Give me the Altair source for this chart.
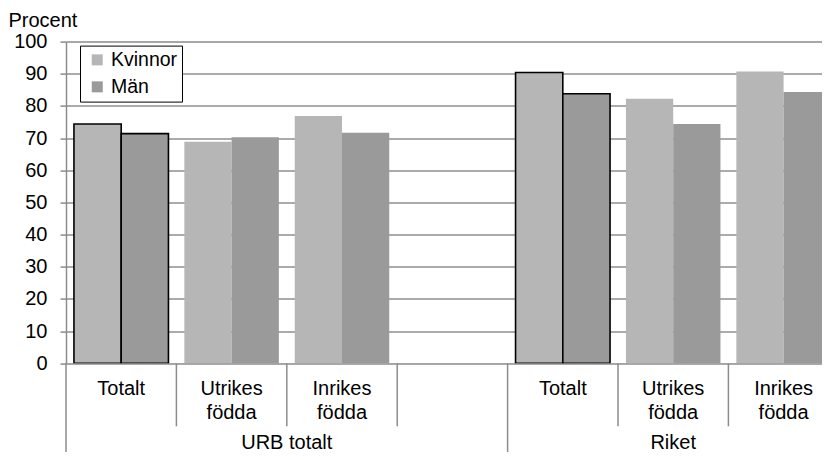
import altair as alt
import pandas as pd

grupper = ["URB totalt", "Riket"]
kategorier = ["Totalt", "Utrikes födda", "Inrikes födda"]
kon = ["Kvinnor", "Män"]
kvinnor = [74.4, 68.9, 76.9, 90.4, 82.2, 90.7]
man = [71.4, 70.3, 71.7, 83.8, 74.4, 84.3]
farger = ["#b6b6b6", "#9a9a9a"]

FONT = "Liberation Sans"
FS = 20
PAD_L, PAD_T = 58, 33.6
SVG_W, SVG_H = 814, 444
W, H = SVG_W - PAD_L, 321.7
PAD_B = SVG_H - PAD_T - H
SLOTS = W / 110.4

# bars
rows = []
for gi, g in enumerate(grupper):
    for ci, c in enumerate(kategorier):
        slot = gi * 4 + ci
        idx = gi * 3 + ci
        for ki, (k, vals) in enumerate(zip(kon, [kvinnor, man])):
            x0 = slot + 0.072 + ki * 0.428
            rows.append({
                "grupp": g, "kategori": c, "kon": k, "varde": vals[idx],
                "x0": x0, "x1": x0 + 0.428,
                "kant": "black" if c == "Totalt" else "transparent",
            })
bars_df = pd.DataFrame(rows)

# category labels
lab_rows = []
for gi, g in enumerate(grupper):
    for ci, c in enumerate(kategorier):
        parts = c.split(" ")
        lab_rows.append({"xc": gi * 4 + ci + 0.5, "l1": parts[0],
                         "l2": parts[1] if len(parts) > 1 else ""})
lab_df = pd.DataFrame(lab_rows)

grp_df = pd.DataFrame({"grupp": grupper, "xc": [2.0, 5.5]})

short_sep = pd.DataFrame({"xs": [1, 2, 3, 5, 6]})
long_sep = pd.DataFrame({"xs": [0, 4]})

xscale = alt.Scale(domain=[0, SLOTS], nice=False, zero=False)
yscale = alt.Scale(domain=[0, 100], nice=False)

bars = alt.Chart(bars_df).mark_bar(strokeWidth=1.6, clip=True).encode(
    x=alt.X("x0:Q", scale=xscale, axis=None),
    x2="x1:Q",
    y=alt.Y("varde:Q", scale=yscale,
            axis=alt.Axis(values=list(range(0, 101, 10)), title="Procent",
                          titleAngle=0, titleAlign="left", titleBaseline="middle",
                          titleX=-58, titleY=-21, titleFontSize=FS,
                          titleFontWeight="normal", titleFont=FONT, titleColor="black",
                          labelFont=FONT, labelFontSize=FS, labelColor="black",
                          labelPadding=13, tickSize=6, tickColor="#8c8c8c",
                          tickWidth=1.5, domainColor="#8c8c8c", domainWidth=1.5,
                          grid=True, gridColor="#8f8f8f", gridWidth=1.5)),
    y2=alt.datum(0),
    color=alt.Color("kon:N", scale=alt.Scale(domain=kon, range=farger),
                    legend=alt.Legend(title=None, orient="none", legendX=14, legendY=4,
                                      strokeColor="black", fillColor="white",
                                      padding=4.5, symbolOffset=3,
                                      symbolType="square", symbolSize=121,
                                      symbolStrokeWidth=0, labelFont=FONT,
                                      labelFontSize=19.5, labelColor="black",
                                      labelOffset=4, rowPadding=6)),
    stroke=alt.Stroke("kant:N", scale=None, legend=None),
)

sep_short = alt.Chart(short_sep).mark_rule(color="#8c8c8c", strokeWidth=1.5).encode(
    x=alt.X("xs:Q", scale=xscale),
    y=alt.value(H), y2=alt.value(H + 63),
)
sep_long = alt.Chart(long_sep).mark_rule(color="#8c8c8c", strokeWidth=1.5).encode(
    x=alt.X("xs:Q", scale=xscale),
    y=alt.value(H), y2=alt.value(H + PAD_B),
)

txt1 = alt.Chart(lab_df).mark_text(font=FONT, fontSize=FS, color="black",
                                   baseline="middle", align="center").encode(
    x=alt.X("xc:Q", scale=xscale), y=alt.value(347.4), text="l1:N")
txt2 = alt.Chart(lab_df).mark_text(font=FONT, fontSize=FS, color="black",
                                   baseline="middle", align="center").encode(
    x=alt.X("xc:Q", scale=xscale), y=alt.value(371.4), text="l2:N")
gtxt = alt.Chart(grp_df).mark_text(font=FONT, fontSize=FS, color="black",
                                   baseline="middle", align="center").encode(
    x=alt.X("xc:Q", scale=xscale), y=alt.value(H + PAD_B - 9), text="grupp:N")

chart = alt.layer(bars, sep_short, sep_long, txt1, txt2, gtxt).properties(
    width=W, height=H,
    autosize=alt.AutoSizeParams(type="none"),
    padding={"left": PAD_L, "top": PAD_T, "right": 0, "bottom": PAD_B},
).configure_view(stroke=None).configure(background="white")

chart.save("out.html", embed_options={"renderer": "svg", "actions": False})
